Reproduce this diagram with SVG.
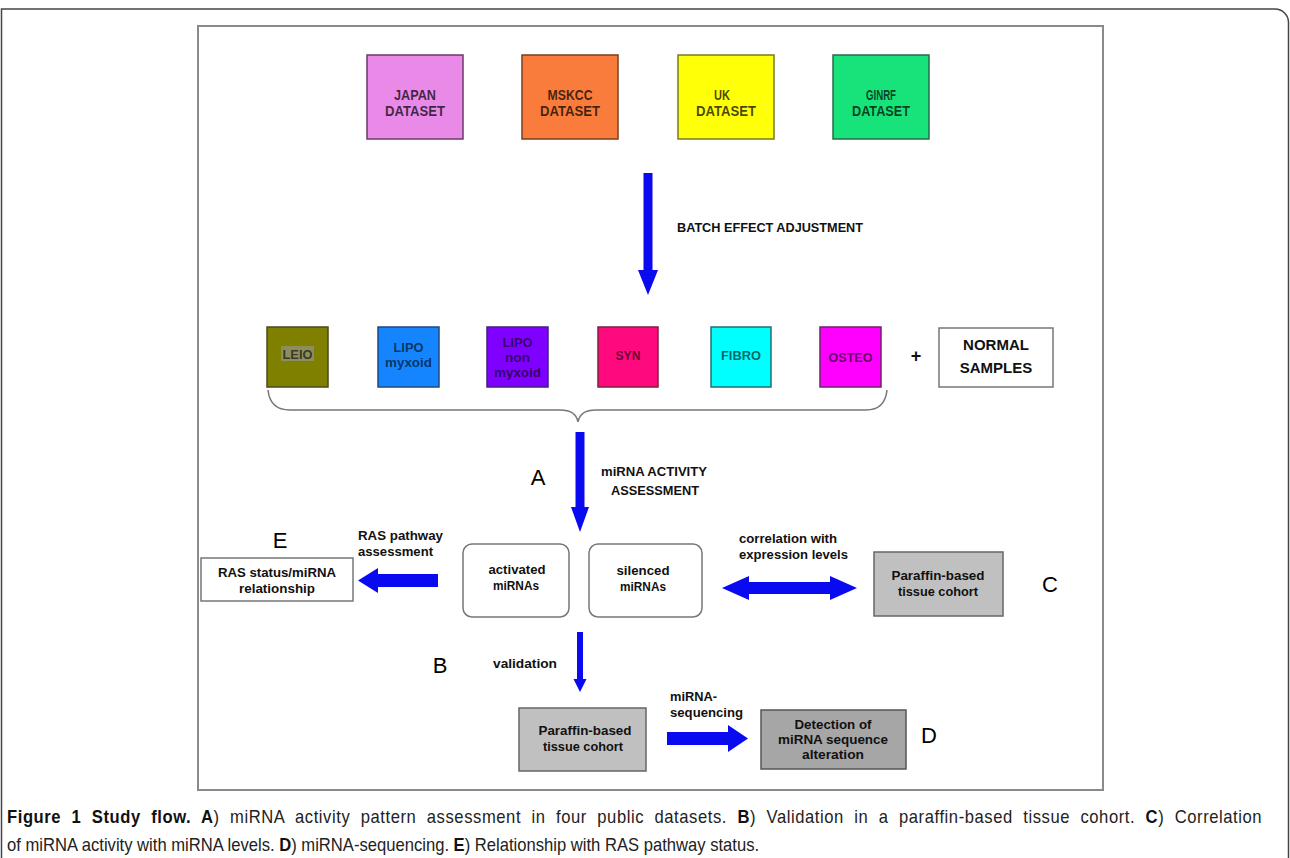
<svg xmlns="http://www.w3.org/2000/svg" width="1290" height="858" viewBox="0 0 1290 858">
<style>
  .lbl{font-family:"Liberation Sans",Arial,sans-serif;font-weight:bold;text-anchor:middle}
  .lft{font-family:"Liberation Sans",Arial,sans-serif;font-weight:bold}
  .big{font-family:"Liberation Sans",Arial,sans-serif;font-size:22px;text-anchor:middle}
  .box{stroke-width:1.5}
  .arr{fill:#0a0af0}
  .cap{font-family:"Liberation Sans",Arial,sans-serif;font-size:17.5px;fill:#222}
  .b{font-weight:bold;fill:#111}
  .ds{font-size:15px;fill:#000;fill-opacity:0.72}
  .r2{font-size:13px;fill:#000;fill-opacity:0.62}
  .t{font-size:12.5px;fill:#111}
</style>
<rect width="1290" height="858" fill="#fff"/>
<path d="M1.5,858 V9 H1275 A13.5,13.5 0 0 1 1288.5,22.5 V858" fill="none" stroke="#444" stroke-width="1.5"/>
<rect x="198" y="26" width="905" height="764" fill="#fff" stroke="#8a8a8a" stroke-width="2"/>

<g id="japan">
  <rect class="box" x="367" y="55" width="96" height="84" fill="#E98AE8" stroke="#6a3a6a"/>
  <text class="lbl ds" x="415" y="100" textLength="42" lengthAdjust="spacingAndGlyphs">JAPAN</text>
  <text class="lbl ds" x="415" y="116" textLength="60" lengthAdjust="spacingAndGlyphs">DATASET</text>
</g>
<g id="mskcc">
  <rect class="box" x="522" y="55" width="96" height="84" fill="#F97C3C" stroke="#7a3e1e"/>
  <text class="lbl ds" x="570" y="100" textLength="45" lengthAdjust="spacingAndGlyphs">MSKCC</text>
  <text class="lbl ds" x="570" y="116" textLength="60" lengthAdjust="spacingAndGlyphs">DATASET</text>
</g>
<g id="uk">
  <rect class="box" x="678" y="55" width="96" height="84" fill="#FFFF08" stroke="#7a7a20"/>
  <text class="lbl ds" x="722" y="100" textLength="16" lengthAdjust="spacingAndGlyphs">UK</text>
  <text class="lbl ds" x="726" y="116" textLength="60" lengthAdjust="spacingAndGlyphs">DATASET</text>
</g>
<g id="ginrf">
  <rect class="box" x="833" y="55" width="96" height="84" fill="#17E37A" stroke="#2a6a4a"/>
  <text class="lbl ds" x="881" y="100" textLength="30" lengthAdjust="spacingAndGlyphs">GINRF</text>
  <text class="lbl ds" x="881" y="116" textLength="58" lengthAdjust="spacingAndGlyphs">DATASET</text>
</g>

<text id="batch-label" class="lft t" x="677" y="232" textLength="186" lengthAdjust="spacingAndGlyphs">BATCH EFFECT ADJUSTMENT</text>

<g id="leio">
  <rect class="box" x="267" y="327" width="61" height="60" fill="#808000" stroke="#4a4a20"/>
  <rect x="281" y="346" width="33" height="15" fill="#8E8E5C"/>
  <text class="lbl r2" x="297.5" y="358.5" textLength="30" lengthAdjust="spacingAndGlyphs">LEIO</text>
</g>
<g id="lipo-myxoid">
  <rect class="box" x="378" y="327" width="61" height="60" fill="#1485FF" stroke="#204a80"/>
  <text class="lbl r2" x="408.5" y="352" textLength="30" lengthAdjust="spacingAndGlyphs">LIPO</text>
  <text class="lbl r2" x="408.5" y="367" textLength="47" lengthAdjust="spacingAndGlyphs">myxoid</text>
</g>
<g id="lipo-non-myxoid">
  <rect class="box" x="487" y="327" width="61" height="60" fill="#8000FF" stroke="#402080"/>
  <text class="lbl r2" x="517.5" y="347" textLength="30" lengthAdjust="spacingAndGlyphs">LIPO</text>
  <text class="lbl r2" x="517.5" y="362" textLength="25" lengthAdjust="spacingAndGlyphs">non</text>
  <text class="lbl r2" x="517.5" y="377" textLength="47" lengthAdjust="spacingAndGlyphs">myxoid</text>
</g>
<g id="syn">
  <rect class="box" x="598" y="327" width="60" height="60" fill="#FF0A7E" stroke="#802040"/>
  <text class="lbl r2" x="628" y="360" textLength="25" lengthAdjust="spacingAndGlyphs">SYN</text>
</g>
<g id="fibro">
  <rect class="box" x="711" y="327" width="60" height="60" fill="#00FFFF" stroke="#207070"/>
  <text class="lbl r2" x="741" y="360" textLength="40" lengthAdjust="spacingAndGlyphs">FIBRO</text>
</g>
<g id="osteo">
  <rect class="box" x="820" y="327" width="61" height="60" fill="#FF00FF" stroke="#702070"/>
  <text class="lbl r2" x="850.5" y="362" textLength="44" lengthAdjust="spacingAndGlyphs">OSTEO</text>
</g>
<text id="plus" class="lbl" x="916" y="362" font-size="18" fill="#111">+</text>
<g id="normal">
  <rect class="box" x="939" y="328" width="114" height="59" fill="#fff" stroke="#777"/>
  <text class="lbl" x="996" y="350" font-size="15" fill="#111">NORMAL</text>
  <text class="lbl" x="996" y="373" font-size="15" fill="#111">SAMPLES</text>
</g>

<path id="brace" d="M268,390 Q270,410 290,410 H560 Q576,410 578,422 Q580,410 596,410 H866 Q885,410 887,390" fill="none" stroke="#777" stroke-width="1.5"/>

<text id="label-a" class="big" x="538" y="485">A</text>
<text class="lbl t" x="654" y="476" textLength="106" lengthAdjust="spacingAndGlyphs">miRNA ACTIVITY</text>
<text class="lbl t" x="655" y="495" textLength="88" lengthAdjust="spacingAndGlyphs">ASSESSMENT</text>

<text id="label-e" class="big" x="280" y="548">E</text>
<text class="lft t" x="358" y="540" textLength="85" lengthAdjust="spacingAndGlyphs">RAS pathway</text>
<text class="lft t" x="358" y="556" textLength="75" lengthAdjust="spacingAndGlyphs">assessment</text>

<g id="ras-status">
  <rect x="201" y="558" width="152" height="43" fill="#fff" stroke="#777" stroke-width="1.5"/>
  <text class="lbl t" x="277" y="577" textLength="118" lengthAdjust="spacingAndGlyphs">RAS status/miRNA</text>
  <text class="lbl t" x="277" y="593" textLength="76" lengthAdjust="spacingAndGlyphs">relationship</text>
</g>
<g id="activated">
  <rect x="463" y="544" width="106" height="73" rx="9" fill="#fff" stroke="#777" stroke-width="1.5"/>
  <text class="lbl t" x="517" y="574" textLength="57" lengthAdjust="spacingAndGlyphs">activated</text>
  <text class="lbl t" x="516" y="590" textLength="46" lengthAdjust="spacingAndGlyphs">miRNAs</text>
</g>
<g id="silenced">
  <rect x="589" y="544" width="113" height="73" rx="9" fill="#fff" stroke="#777" stroke-width="1.5"/>
  <text class="lbl t" x="643" y="575" textLength="53" lengthAdjust="spacingAndGlyphs">silenced</text>
  <text class="lbl t" x="643" y="591" textLength="46" lengthAdjust="spacingAndGlyphs">miRNAs</text>
</g>
<text class="lft t" x="739" y="543" textLength="98" lengthAdjust="spacingAndGlyphs">correlation with</text>
<text class="lft t" x="739" y="559" textLength="109" lengthAdjust="spacingAndGlyphs">expression levels</text>
<g id="paraffin-c">
  <rect x="874" y="552" width="129" height="64" fill="#C0C0C0" stroke="#666" stroke-width="1.5"/>
  <text class="lbl t" x="938" y="580" textLength="93" lengthAdjust="spacingAndGlyphs">Paraffin-based</text>
  <text class="lbl t" x="938" y="596" textLength="80" lengthAdjust="spacingAndGlyphs">tissue cohort</text>
</g>
<text id="label-c" class="big" x="1050" y="592">C</text>

<text id="label-b" class="big" x="440" y="673">B</text>
<text class="lft t" x="493" y="668" textLength="64" lengthAdjust="spacingAndGlyphs">validation</text>
<g id="paraffin-b">
  <rect x="519" y="708" width="127" height="63" fill="#C0C0C0" stroke="#666" stroke-width="1.5"/>
  <text class="lbl t" x="585" y="735" textLength="93" lengthAdjust="spacingAndGlyphs">Paraffin-based</text>
  <text class="lbl t" x="583" y="751" textLength="80" lengthAdjust="spacingAndGlyphs">tissue cohort</text>
</g>
<text class="lft t" x="670" y="701" textLength="47" lengthAdjust="spacingAndGlyphs">miRNA-</text>
<text class="lft t" x="670" y="717" textLength="73" lengthAdjust="spacingAndGlyphs">sequencing</text>
<g id="detection">
  <rect x="761" y="710" width="145" height="59" fill="#A6A6A6" stroke="#555" stroke-width="1.5"/>
  <text class="lbl t" x="833" y="729" textLength="77" lengthAdjust="spacingAndGlyphs">Detection of</text>
  <text class="lbl t" x="833" y="744" textLength="110" lengthAdjust="spacingAndGlyphs">miRNA sequence</text>
  <text class="lbl t" x="833" y="759" textLength="62" lengthAdjust="spacingAndGlyphs">alteration</text>
</g>
<text id="label-d" class="big" x="929" y="743">D</text>

<g id="connectors">
  <polygon class="arr" points="643.5,173 652.5,173 652.5,270 658,270 648,295 638,270 643.5,270"/>
  <polygon class="arr" points="575.5,432 584.5,432 584.5,507 589,507 580,532 571,507 575.5,507"/>
  <polygon class="arr" points="438,574 378,574 378,568 358,580.5 378,593 378,587 438,587"/>
  <polygon class="arr" points="722,588 749,576 749,582 830,582 830,576 857,588 830,600 830,594 749,594 749,600"/>
  <polygon class="arr" points="577,632 583,632 583,679 586.5,679 580,692 573.5,679 577,679"/>
  <polygon class="arr" points="667,732 728,732 728,725 748,738.5 728,752 728,745 667,745"/>
</g>

<g id="caption" transform="translate(7,0) scale(0.95,1)">
<text class="cap" x="0" y="823" letter-spacing="0.6" word-spacing="5.5"><tspan class="b">Figure 1 Study flow. A</tspan>) miRNA activity pattern assessment in four public datasets. <tspan class="b">B</tspan>) Validation in a paraffin-based tissue cohort. <tspan class="b">C</tspan>) Correlation</text>
<text class="cap" x="0" y="851">of miRNA activity with miRNA levels. <tspan class="b">D</tspan>) miRNA-sequencing. <tspan class="b">E</tspan>) Relationship with RAS pathway status.</text>
</g>
</svg>
